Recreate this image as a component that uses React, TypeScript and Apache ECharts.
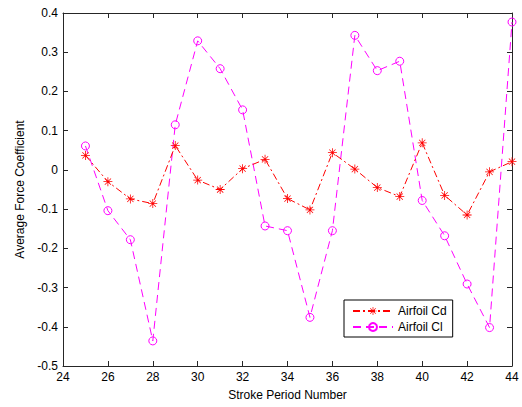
import React, { useEffect, useRef } from "react";
import * as echarts from "echarts";

const strokePeriods = [25, 26, 27, 28, 29, 30, 31, 32, 33, 34, 35, 36, 37, 38, 39, 40, 41, 42, 43, 44];
const airfoilCd = [0.037, -0.03, -0.074, -0.086, 0.062, -0.026, -0.05, 0.003, 0.027, -0.073, -0.102, 0.044, 0.002, -0.045, -0.068, 0.069, -0.065, -0.115, -0.005, 0.021];
const airfoilCl = [0.061, -0.104, -0.178, -0.436, 0.115, 0.329, 0.258, 0.153, -0.143, -0.155, -0.376, -0.155, 0.343, 0.253, 0.277, -0.078, -0.168, -0.291, -0.402, 0.377];

const seriesNames = ["Airfoil Cd", "Airfoil Cl"];
const xAxisTitle = "Stroke Period Number";
const yAxisTitle = "Average Force Coefficient";

const STAR =
  "path://M7.3,0H8.7V16H7.3Z M0,7.3H16V8.7H0Z M2,2.9L2.9,2L14,13.1L13.1,14Z M13.1,2L14,2.9L2.9,14L2,13.1Z";

const FONT = "'Liberation Sans', Arial, Helvetica, sans-serif";

export default function App() {
  const ref = useRef<HTMLDivElement>(null);
  useEffect(() => {
    if (!ref.current) return;
    const chart = echarts.init(ref.current, undefined, { renderer: "svg" });
    const axisLine = { show: true, onZero: false, lineStyle: { color: "#262626", width: 1 } };
    const tick = { show: true, inside: true, length: 5, lineStyle: { color: "#262626" } };
    const fmt = (v: number) => String(parseFloat(v.toFixed(1)));
    chart.setOption({
      animation: false,
      backgroundColor: "#ffffff",
      textStyle: { fontFamily: FONT },
      grid: { left: 63, right: 10, top: 13, bottom: 41, containLabel: false },
      legend: {
        left: 344,
        top: 300,
        orient: "vertical",
        padding: [5, 6, 4, 8],
        itemGap: 4,
        itemWidth: 40,
        itemHeight: 10,
        borderColor: "#000",
        borderWidth: 1,
        borderRadius: 0,
        backgroundColor: "#fff",
        textStyle: { fontFamily: FONT, fontSize: 12, color: "#000" },
        data: seriesNames,
      },
      xAxis: [
        {
          type: "value",
          min: 24,
          max: 44,
          interval: 2,
          position: "bottom",
          name: xAxisTitle,
          nameLocation: "middle",
          nameGap: 23,
          nameTextStyle: { fontFamily: FONT, fontSize: 12, color: "#000" },
          axisLine,
          axisTick: tick,
          splitLine: { show: false },
          axisLabel: { fontFamily: FONT, fontSize: 12, color: "#000", margin: 5 },
        },
        {
          type: "value",
          min: 24,
          max: 44,
          interval: 2,
          position: "top",
          axisLine,
          axisTick: tick,
          splitLine: { show: false },
          axisLabel: { show: false },
        },
      ],
      yAxis: [
        {
          type: "value",
          min: -0.5,
          max: 0.4,
          interval: 0.1,
          position: "left",
          name: yAxisTitle,
          nameLocation: "middle",
          nameGap: 35,
          nameTextStyle: { fontFamily: FONT, fontSize: 12, color: "#000" },
          axisLine,
          axisTick: tick,
          splitLine: { show: false },
          axisLabel: { fontFamily: FONT, fontSize: 12, color: "#000", margin: 5, formatter: fmt },
        },
        {
          type: "value",
          min: -0.5,
          max: 0.4,
          interval: 0.1,
          position: "right",
          axisLine,
          axisTick: tick,
          splitLine: { show: false },
          axisLabel: { show: false },
        },
      ],
      series: [
        {
          name: seriesNames[0],
          type: "line",
          data: strokePeriods.map((x, i) => [x, airfoilCd[i]]),
          symbol: STAR,
          symbolSize: 9,
          itemStyle: { color: "#ff0000" },
          lineStyle: { color: "#ff0000", width: 1, type: [7, 3, 2, 3] },
          z: 3,
        },
        {
          name: seriesNames[1],
          type: "line",
          data: strokePeriods.map((x, i) => [x, airfoilCl[i]]),
          symbol: "circle",
          symbolSize: 8,
          itemStyle: { color: "rgba(255,255,255,0)", borderColor: "#ff00ff", borderWidth: 1 },
          lineStyle: { color: "#ff00ff", width: 1, type: [8, 5] },
          z: 2,
        },
      ],
    });
    return () => chart.dispose();
  }, []);
  return (
    <div
      ref={ref}
      style={{ position: "fixed", left: 0, top: 0, width: 522, height: 407, background: "#fff" }}
    />
  );
}
